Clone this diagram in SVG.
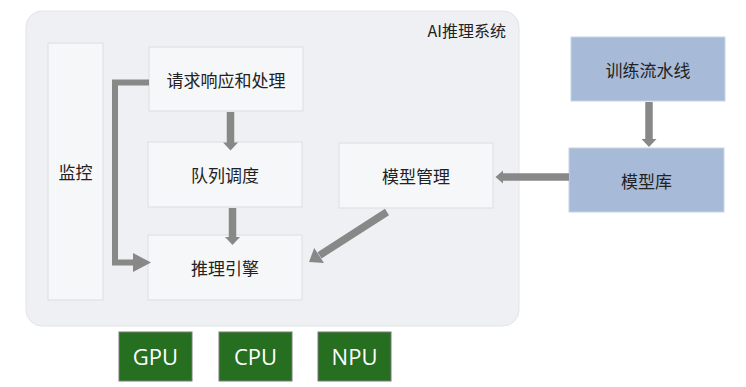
<svg xmlns="http://www.w3.org/2000/svg" width="746" height="387" viewBox="0 0 746 387">
<style>
.box{fill:#f6f7f9;stroke:#dcdde2;stroke-width:1}
.blue{fill:#a7bbd9;stroke:#c9d3e4;stroke-width:1}
.hw{fill:#266e20;stroke:#7a7a7a;stroke-width:1}
.lbl{font-family:"Noto Sans CJK SC","Noto Sans",sans-serif;font-size:17px;fill:#222;text-anchor:middle;dominant-baseline:central}
.hwt{font-family:"Open Sans","Noto Sans",sans-serif;font-size:22px;fill:#fff;text-anchor:middle;dominant-baseline:central}
.shaft{stroke:#888;fill:none}
.head{fill:#888}
</style>
<rect x="0" y="0" width="746" height="387" fill="#fff"/>
<g id="container">
<rect x="26" y="11" width="493" height="315" rx="16" fill="#eff0f4" stroke="#e2e3e8"/>
<text x="506" y="30" class="lbl" style="text-anchor:end;font-size:16px">AI推理系统</text>
</g>
<g id="monitor"><rect class="box" x="48" y="43" width="55" height="257"/><text class="lbl" x="75.5" y="171">监控</text></g>
<g id="request"><rect class="box" x="149" y="47" width="154" height="64"/><text class="lbl" x="226" y="79">请求响应和处理</text></g>
<g id="queue"><rect class="box" x="148" y="142" width="154" height="65"/><text class="lbl" x="225" y="174.5">队列调度</text></g>
<g id="engine"><rect class="box" x="148" y="235" width="154" height="65"/><text class="lbl" x="225" y="267.5">推理引擎</text></g>
<g id="modelmgmt"><rect class="box" x="339" y="143" width="154" height="65"/><text class="lbl" x="416" y="175.5">模型管理</text></g>
<g id="training"><rect class="blue" x="571" y="37" width="154" height="64"/><text class="lbl" x="648" y="69">训练流水线</text></g>
<g id="modelrepo"><rect class="blue" x="569" y="148" width="155" height="64"/><text class="lbl" x="646.5" y="180">模型库</text></g>
<g id="gpu"><rect class="hw" x="119" y="332" width="73" height="49"/><text class="hwt" x="155.5" y="356">GPU</text></g>
<g id="cpu"><rect class="hw" x="219" y="332" width="73" height="49"/><text class="hwt" x="255.5" y="356">CPU</text></g>
<g id="npu"><rect class="hw" x="318" y="332" width="73" height="49"/><text class="hwt" x="354.5" y="356">NPU</text></g>
<g id="connectors">
<line class="shaft" x1="230.5" y1="112" x2="230.5" y2="143" stroke-width="7.5"/>
<polygon class="head" points="223,142.5 238,142.5 230.5,150.5"/>
<line class="shaft" x1="232.5" y1="208" x2="232.5" y2="237.5" stroke-width="7.5"/>
<polygon class="head" points="225,237 240,237 232.5,245"/>
<polyline class="shaft" points="149,82.5 115,82.5 115,262.5 134,262.5" stroke-width="6"/>
<polygon class="head" points="133,253 151,262.5 133,272"/>
<line class="shaft" x1="387" y1="212" x2="319.5" y2="255.3" stroke-width="7.5"/>
<polygon class="head" points="324,263.1 314.2,247.9 309,262"/>
<line class="shaft" x1="569" y1="177" x2="502.5" y2="177" stroke-width="7.5"/>
<polygon class="head" points="503,170.5 503,183.5 495.5,177"/>
<line class="shaft" x1="649" y1="102" x2="649" y2="139.5" stroke-width="7.5"/>
<polygon class="head" points="641.5,139 656.5,139 649,147"/>
</g>
</svg>
